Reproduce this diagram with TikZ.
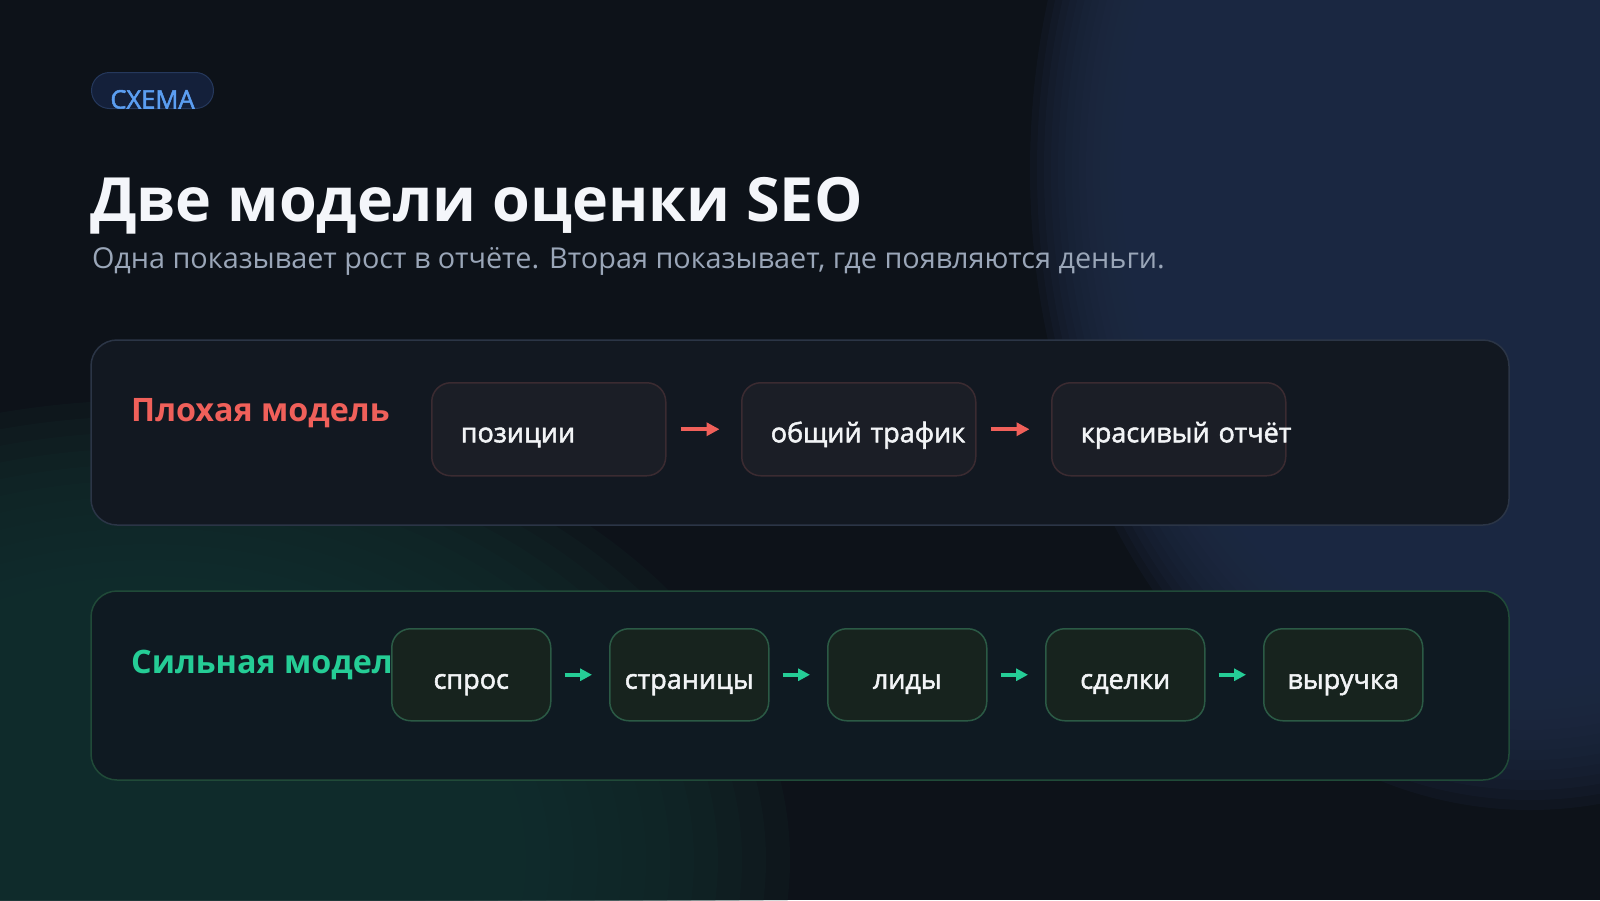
\documentclass[tikz,border=0pt]{standalone}
\usepackage{fontspec}
\setmainfont{Open Sans}
\newfontfamily\medfont[FakeBold=2]{Open Sans}
\usetikzlibrary{arrows.meta,positioning}

\definecolor{bgBase}{HTML}{0D1219}
\definecolor{glowBlue}{HTML}{1F2C46}
\definecolor{glowGreen}{HTML}{143030}
\definecolor{titleWhite}{HTML}{F4F6FA}
\definecolor{subGrey}{HTML}{9AA6B8}
\definecolor{tagFill}{HTML}{14203A}
\definecolor{tagLine}{HTML}{25385C}
\definecolor{tagBlue}{HTML}{5B9EF2}
\definecolor{badRed}{HTML}{F0605A}
\definecolor{goodGreen}{HTML}{25CD96}
\definecolor{panelOneFill}{HTML}{121821}
\definecolor{panelOneLine}{HTML}{2B3546}
\definecolor{panelTwoFill}{HTML}{0F1A22}
\definecolor{panelTwoLine}{HTML}{204A38}
\definecolor{stepOneFill}{HTML}{1B1E26}
\definecolor{stepOneLine}{HTML}{3B2B31}
\definecolor{stepTwoFill}{HTML}{17231E}
\definecolor{stepTwoLine}{HTML}{2B5A45}
\definecolor{stepText}{HTML}{F2F4F6}

\begin{document}
\begin{tikzpicture}[x=1pt, y=-1pt,
    panel/.style={rounded corners=26pt, line width=1.5pt},
    label/.style={anchor=base west, inner sep=0pt, font=\fontsize{32.3}{35}\selectfont\bfseries},
    stepOne/.style={draw=stepOneLine, fill=stepOneFill, rounded corners=19pt, line width=1.5pt,
        minimum height=93pt, text width=176pt, inner xsep=29pt, inner ysep=0pt,
        text height=26pt, text depth=0pt, align=left, text=stepText,
        font=\fontsize{27}{30}\selectfont\medfont},
    stepTwo/.style={draw=stepTwoLine, fill=stepTwoFill, rounded corners=19pt, line width=1.5pt,
        minimum width=159pt, minimum height=92pt, inner sep=0pt,
        text height=28pt, text depth=0pt, text=stepText,
        font=\fontsize{27}{30}\selectfont\medfont},
    badArrow/.style={draw=badRed, line width=4pt, -{Triangle[length=13pt, width=13pt]},
        shorten <=14pt, shorten >=21.5pt},
    goodArrow/.style={draw=goodGreen, line width=4pt, -{Triangle[length=12pt, width=12pt]},
        shorten <=13pt, shorten >=17pt}]

    \useasboundingbox (0,0) rectangle (1600,900);

    % background and glows
    \begin{scope}
        \clip (0,0) rectangle (1600,900);
        \fill[bgBase] (0,0) rectangle (1600,900);
        \foreach \k in {0,...,15}
            \fill[glowBlue, fill opacity=0.18] (1530,170)
                ellipse [x radius={500pt-7pt*\k}, y radius={640pt-10pt*\k}];
        \foreach \k in {0,...,15}
            \fill[glowGreen, fill opacity=0.17] (150,860)
                ellipse [x radius={640pt-24pt*\k}, y radius={460pt-16pt*\k}];
    \end{scope}

    % header
    \node[draw=tagLine, fill=tagFill, rounded corners=18pt, line width=1pt, anchor=north west,
        minimum width=122pt, minimum height=36pt, inner sep=0pt, text height=36pt, text depth=0pt,
        text=tagBlue, font=\fontsize{25.5}{28}\selectfont\medfont] (Tag) at (91,72) {СХЕМА};
    \node[anchor=base west, inner sep=0pt, text=titleWhite,
        font=\fontsize{61}{66}\selectfont\bfseries] (Title) at (90,221.7) {Две модели оценки SEO};
    \node[anchor=base west, inner sep=0pt, text=subGrey,
        font=\fontsize{28.8}{32}\selectfont] (Sub) at (92,268.3)
        {Одна показывает рост в отчёте. Вторая показывает, где появляются деньги.};

    % bad model
    \draw[panel, draw=panelOneLine, fill=panelOneFill] (91,340) rectangle (1509,525);
    \node[label, text=badRed] (M1) at (131,421.7) {Плохая модель};

    \node[stepOne, anchor=north west] (M1_s1) at (431,382) {\mbox{позиции}};
    \node[stepOne, right=74.5pt of M1_s1] (M1_s2) {\mbox{общий трафик}};
    \node[stepOne, right=74.5pt of M1_s2] (M1_s3) {\mbox{красивый отчёт}};

    \draw[badArrow] (M1_s1) -- (M1_s2);
    \draw[badArrow] (M1_s2) -- (M1_s3);

    % strong model
    \draw[panel, draw=panelTwoLine, fill=panelTwoFill] (91,591) rectangle (1509,780);
    \node[label, text=goodGreen] (M2) at (131,673.3) {Сильная модель};

    \node[stepTwo, anchor=north west] (M2_s1) at (391,628) {спрос};
    \node[stepTwo, right=57.5pt of M2_s1] (M2_s2) {страницы};
    \node[stepTwo, right=57.5pt of M2_s2] (M2_s3) {лиды};
    \node[stepTwo, right=57.5pt of M2_s3] (M2_s4) {сделки};
    \node[stepTwo, right=57.5pt of M2_s4] (M2_s5) {выручка};

    \draw[goodArrow] (M2_s1) -- (M2_s2);
    \draw[goodArrow] (M2_s2) -- (M2_s3);
    \draw[goodArrow] (M2_s3) -- (M2_s4);
    \draw[goodArrow] (M2_s4) -- (M2_s5);

\end{tikzpicture}
\end{document}
